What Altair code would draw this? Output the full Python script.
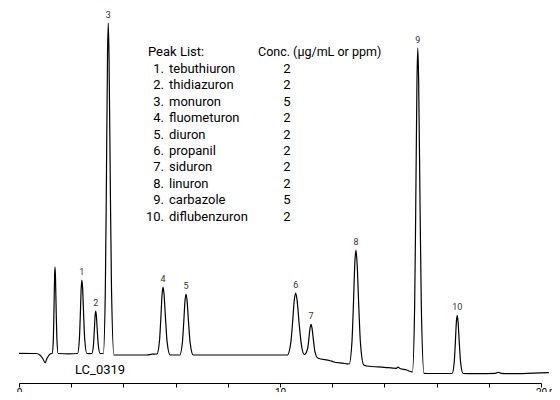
import altair as alt
import pandas as pd

# Chromatogram trace (retention time in min, detector signal in arbitrary units)
trace_time = [
    0.00, 0.65, 0.80, 0.92, 1.00, 1.08, 1.19, 1.25,
    1.276, 1.319, 1.34, 1.364, 1.38, 1.396, 1.424, 1.448, 1.50,
    1.90,
    2.246, 2.314, 2.347, 2.385, 2.41, 2.435, 2.479, 2.517, 2.599,
    2.70,
    2.79, 2.853, 2.882, 2.917, 2.94, 2.963, 3.003, 3.038, 3.11,
    3.23, 3.309, 3.347, 3.391, 3.42, 3.449, 3.50, 3.544, 3.639,
    4.00, 4.90, 5.10,
    5.286, 5.383, 5.43, 5.484, 5.52, 5.556, 5.619, 5.673, 5.79,
    6.00,
    6.16, 6.259, 6.307, 6.363, 6.40, 6.437, 6.502, 6.557, 6.678,
    8.00, 9.50, 10.10,
    10.281, 10.414, 10.477, 10.551, 10.60, 10.649, 10.735, 10.808, 10.93,
    11.059, 11.104, 11.156, 11.19, 11.224, 11.285, 11.336, 11.448,
    11.92, 12.03, 12.40,
    12.65, 12.758, 12.81, 12.87, 12.91, 12.95, 13.02, 13.08, 13.21,
    13.33, 14.00, 14.46, 14.52, 14.60, 14.85, 15.00,
    15.072, 15.158, 15.20, 15.248, 15.28, 15.312, 15.368, 15.416, 15.52,
    15.80, 16.30,
    16.595, 16.676, 16.715, 16.76, 16.79, 16.82, 16.873, 16.918, 17.015,
    17.60, 18.25, 18.36, 18.47, 19.10, 19.70, 20.30,
]
trace_signal = [
    -0.3, -0.5, -2.0, -6.0, -9.7, -5.0, -1.0, -0.5,
    -0.5, 16.8, 42.8, 77.4, 86.0, 77.4, 42.8, 16.8, -0.5,
    -0.8,
    -0.5, 14.2, 36.3, 65.7, 73.0, 65.7, 36.3, 14.2, -0.5,
    -0.6,
    -0.5, 8.0, 20.8, 37.8, 42.0, 37.8, 20.8, 8.0, -0.5,
    -0.5, 65.6, 164.8, 297.0, 330.0, 296.8, 164.0, 64.4, -2.0,
    -2.0, -2.0, -1.2,
    -1.0, 12.4, 32.5, 59.3, 66.0, 59.2, 32.0, 11.6, -2.0,
    -2.0,
    -2.0, 10.2, 28.5, 52.9, 59.0, 52.9, 28.5, 10.2, -2.0,
    -2.0, -2.0, -2.0,
    -2.0, 10.4, 29.0, 53.8, 60.0, 53.8, 29.0, 10.4, -1.5,
    4.5, 13.6, 25.7, 28.7, 25.3, 11.9, 1.7, -5.0,
    -7.7, -8.7, -10.2,
    -11.0, 11.8, 46.0, 91.6, 103.0, 91.5, 45.5, 11.0, -12.0,
    -13.0, -14.3, -15.3, -14.2, -15.5, -17.0, -18.5,
    -19.0, 45.8, 143.0, 272.6, 305.0, 272.5, 142.4, 44.8, -20.3,
    -20.5, -20.5,
    -20.5, -8.9, 8.6, 31.9, 37.7, 31.9, 8.6, -8.9, -20.5,
    -20.6, -20.3, -19.3, -20.4, -20.7, -20.2, -19.7,
]

# Labelled peaks (apex)
peak_numbers = [1, 2, 3, 4, 5, 6, 7, 8, 9, 10]
peak_time = [2.41, 2.94, 3.42, 5.52, 6.40, 10.60, 11.19, 12.91, 15.28, 16.79]
peak_signal = [73.0, 42.0, 330.0, 66.0, 59.0, 60.0, 28.7, 103.0, 305.0, 37.7]

# Peak list
compound_names = ["tebuthiuron", "thidiazuron", "monuron", "fluometuron", "diuron",
                  "propanil", "siduron", "linuron", "carbazole", "diflubenzuron"]
concentrations = [2, 2, 5, 2, 2, 2, 2, 2, 5, 2]

axis_ticks = list(range(0, 21))

FONT = "Roboto, Liberation Sans, sans-serif"

trace = pd.DataFrame({"time": trace_time, "signal": trace_signal})
peaks = pd.DataFrame({"time": peak_time, "signal": peak_signal,
                      "num": [str(n) for n in peak_numbers]})
rows = pd.DataFrame({"num": [f"{n}." for n in peak_numbers],
                     "name": compound_names,
                     "conc": [str(c) for c in concentrations],
                     "row": list(range(len(compound_names)))})
one = pd.DataFrame({"a": [0]})

xscale = alt.Scale(domain=[0, 20], nice=False, zero=False)
yscale = alt.Scale(domain=[-30, 333], nice=False, zero=False)

line = alt.Chart(trace).mark_line(color="black", strokeWidth=1.2, interpolate="monotone").encode(
    x=alt.X("time:Q", scale=xscale,
            axis=alt.Axis(values=axis_ticks,
                          labelExpr="datum.value % 10 === 0 ? datum.label : ''",
                          tickSize=4, tickColor="black", tickWidth=1,
                          domainColor="black", domainWidth=1,
                          labelFont=FONT, labelFontSize=10, labelColor="black",
                          labelPadding=0, labelOverlap=False, labelFlush=False,
                          grid=False, title=None)),
    y=alt.Y("signal:Q", scale=yscale, axis=None),
)

labels = alt.Chart(peaks).mark_text(baseline="bottom", dy=-3, fontSize=9,
                                    font=FONT, color="#333333").encode(
    x=alt.X("time:Q", scale=xscale),
    y=alt.Y("signal:Q", scale=yscale),
    text="num:N",
)

table = alt.Chart(rows).transform_calculate(py="49 + datum.row * 16.4")
nums = table.mark_text(align="right", baseline="middle", font=FONT, fontSize=13, color="black").encode(
    x=alt.value(145), y=alt.Y("py:Q", scale=None, axis=None), text="num:N")
names = table.mark_text(align="left", baseline="middle", font=FONT, fontSize=13, color="black").encode(
    x=alt.value(150), y=alt.Y("py:Q", scale=None, axis=None), text="name:N")
concs = table.mark_text(align="center", baseline="middle", font=FONT, fontSize=13, color="black").encode(
    x=alt.value(268), y=alt.Y("py:Q", scale=None, axis=None), text="conc:N")

head1 = alt.Chart(one).mark_text(align="left", baseline="middle", font=FONT, fontSize=13, color="black").encode(
    x=alt.value(129), y=alt.value(32), text=alt.value("Peak List:"))
head2 = alt.Chart(one).mark_text(align="left", baseline="middle", font=FONT, fontSize=12.5, color="black").encode(
    x=alt.value(239), y=alt.value(32), text=alt.value("Conc. (µg/mL or ppm)"))
lc = alt.Chart(one).mark_text(align="left", baseline="middle", font=FONT, fontSize=13, color="black").encode(
    x=alt.value(56), y=alt.value(350), text=alt.value("LC_0319"))
mins = alt.Chart(one).mark_text(align="left", baseline="top", font=FONT, fontSize=10, color="black", dx=8).encode(
    x=alt.datum(20, scale=xscale), y=alt.value(367), text=alt.value("min"))

chart = alt.layer(line, labels, head1, head2, nums, names, concs, lc, mins).properties(
    width=522, height=363,
    autosize=alt.AutoSizeParams(type="none"),
    padding={"left": 11, "top": 12, "right": 11, "bottom": 9},
).configure_view(stroke=None)

chart.save("out.html", embed_options={"renderer": "svg", "actions": False})
